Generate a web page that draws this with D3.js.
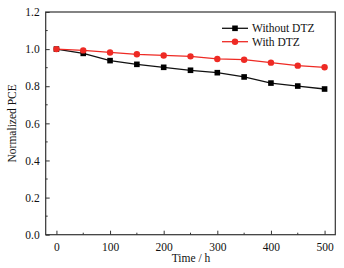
<!DOCTYPE html>
<html><head><meta charset="utf-8">
<script src="https://cdn.jsdelivr.net/npm/d3@7"></script>
<style>body{margin:0;background:#fff}svg{display:block}</style>
</head><body><svg id="c" width="344" height="268"></svg>
<script>
const times = [0,50,100,150,200,250,300,350,400,450,500];
const withoutDTZ = [1.0,0.977,0.938,0.918,0.902,0.886,0.873,0.850,0.817,0.801,0.785];
const withDTZ = [1.0,0.993,0.982,0.972,0.966,0.961,0.947,0.943,0.927,0.911,0.902];
const xTicks = [0,100,200,300,400,500];
const yTicks = [0,0.2,0.4,0.6,0.8,1.0,1.2];
const seriesNames = ["Without DTZ","With DTZ"];

const FONT = "'Liberation Serif'";
const svg = d3.select("#c");
const L=45.7, R=335.3, T=12, B=234.7;
const x = d3.scaleLinear().domain([-20,520]).range([L,R]);
const y = d3.scaleLinear().domain([0,1.2]).range([B,T]);

svg.append("rect").attr("x",L).attr("y",T).attr("width",R-L).attr("height",B-T)
  .attr("fill","none").attr("stroke","#333").attr("stroke-width",1.2);

const xAxis = d3.axisBottom(x).tickValues(xTicks).tickSizeInner(-4).tickSizeOuter(0).tickPadding(8).tickFormat(d3.format("d"));
const gx = svg.append("g").attr("transform",`translate(0,${B})`).call(xAxis);
gx.select(".domain").remove();
const yAxis = d3.axisLeft(y).tickValues(yTicks).tickSizeInner(-4).tickSizeOuter(0).tickPadding(6).tickFormat(d3.format(".1f"));
const gy = svg.append("g").attr("transform",`translate(${L},0)`).call(yAxis);
gy.select(".domain").remove();
[gx,gy].forEach(g=>{g.attr("font-family",null);g.selectAll("text").attr("font-size",11.5).attr("fill","#111").style("font-family",FONT);g.selectAll("line").attr("stroke","#333");});

// minor ticks
svg.append("g").selectAll("line").data([50,150,250,350,450]).join("line")
  .attr("x1",d=>x(d)).attr("x2",d=>x(d)).attr("y1",B).attr("y2",B-2).attr("stroke","#333");
svg.append("g").selectAll("line").data([0.1,0.3,0.5,0.7,0.9,1.1]).join("line")
  .attr("x1",L).attr("x2",L+2).attr("y1",d=>y(d)).attr("y2",d=>y(d)).attr("stroke","#333");

const line = d3.line().x((d,i)=>x(times[i])).y(d=>y(d));
svg.append("path").datum(withoutDTZ).attr("d",line).attr("fill","none").attr("stroke","#111").attr("stroke-width",1.3);
svg.append("path").datum(withDTZ).attr("d",line).attr("fill","none").attr("stroke","#ee2a24").attr("stroke-width",1.3);
svg.append("g").selectAll("rect").data(withoutDTZ).join("rect")
  .attr("x",(d,i)=>x(times[i])-2.8).attr("y",d=>y(d)-2.8).attr("width",5.6).attr("height",5.6).attr("fill","#000");
svg.append("g").selectAll("circle").data(withDTZ).join("circle")
  .attr("cx",(d,i)=>x(times[i])).attr("cy",d=>y(d)).attr("r",3.2).attr("fill","#ee2a24");

// legend
const lg = svg.append("g");
const colors=["#111","#ee2a24"];
seriesNames.forEach((n,i)=>{
  const yy = 28.3 + i*13.4;
  lg.append("line").attr("x1",222).attr("x2",248).attr("y1",yy).attr("y2",yy).attr("stroke",colors[i]).attr("stroke-width",1.3);
  if(i===0) lg.append("rect").attr("x",235-2.8).attr("y",yy-2.8).attr("width",5.6).attr("height",5.6).attr("fill","#000");
  else lg.append("circle").attr("cx",235).attr("cy",yy).attr("r",3.2).attr("fill",colors[i]);
  lg.append("text").attr("x",252).attr("y",yy+3.8).attr("font-size",11.5).attr("fill","#111").style("font-family",FONT).text(n);
});

svg.append("text").attr("x",191).attr("y",262).attr("text-anchor","middle").attr("font-size",11.5).attr("fill","#111").style("font-family",FONT).text("Time / h");
svg.append("text").attr("transform",`translate(16,${(T+B)/2}) rotate(-90)`).attr("text-anchor","middle").attr("font-size",11.5).attr("fill","#111").style("font-family",FONT).text("Normalized PCE");
</script></body></html>
